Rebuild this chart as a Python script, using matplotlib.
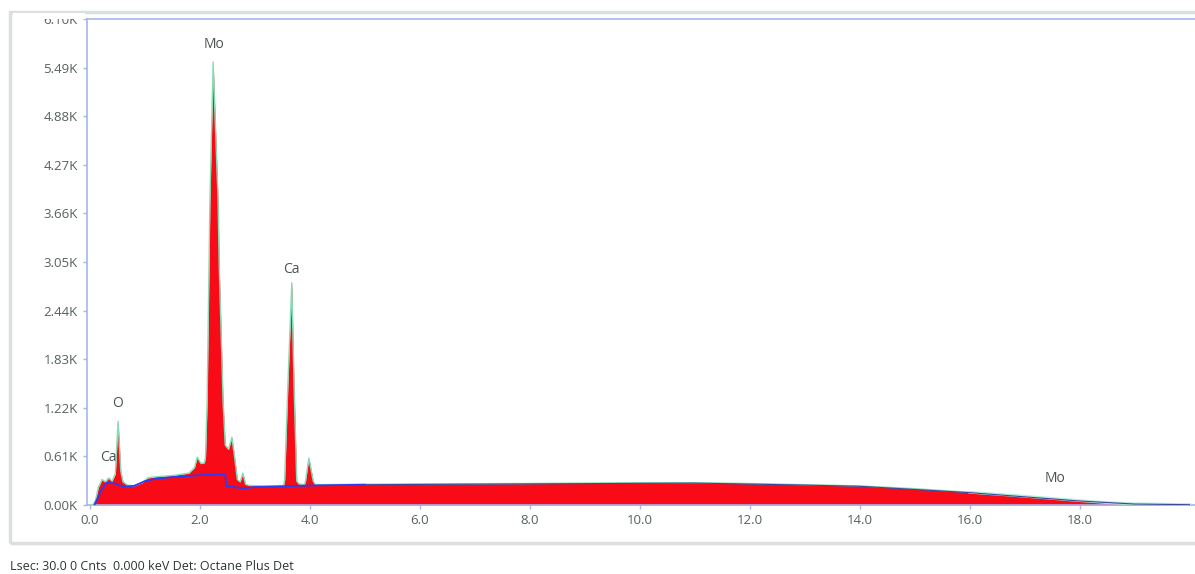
import matplotlib.pyplot as plt
from matplotlib.patches import Rectangle

# spectrum (keV, counts)
energy = [0.0, 0.05, 0.10, 0.15, 0.22, 0.28, 0.34, 0.40, 0.46, 0.51, 0.56, 0.60, 0.68,
          0.80, 0.95, 1.05, 1.20, 1.50, 1.80, 1.90, 1.95, 2.02, 2.08, 2.10, 2.13, 2.18,
          2.24, 2.33, 2.35, 2.42, 2.46, 2.52, 2.58, 2.63, 2.68, 2.73, 2.78, 2.83, 2.90,
          3.20, 3.52, 3.54, 3.60, 3.67, 3.71, 3.76, 3.80, 3.90, 3.92, 3.98, 4.06, 4.10,
          5.0, 6.0, 8.0, 10.0, 11.0, 12.0, 13.0, 14.0, 15.0, 16.0, 17.0, 18.0, 18.5,
          19.0, 20.0]
counts = [0, 0, 60, 220, 320, 290, 340, 300, 390, 1050, 420, 290, 250,
          240, 280, 340, 355, 370, 400, 470, 600, 520, 530, 600, 1300, 3800,
          5560, 3800, 3000, 1300, 750, 700, 850, 600, 320, 290, 400, 260, 245,
          240, 245, 310, 1530, 2790, 1530, 300, 265, 255, 300, 590, 300, 255,
          260, 265, 270, 280, 280, 270, 255, 240, 205, 160, 110, 55, 30,
          15, 5]

# fitted background (blue line)
bg_energy = [0.08, 0.20, 0.30, 0.45, 0.60, 0.80, 1.00, 1.20, 1.50, 2.00, 2.46, 2.48,
             2.80, 3.00, 4.00, 5.0, 8.0, 11.0, 13.0, 14.0, 16.0, 18.0, 19.0, 20.0]
bg_counts = [0, 180, 280, 270, 230, 240, 300, 330, 350, 375, 385, 235,
             210, 225, 245, 255, 265, 275, 250, 235, 155, 50, 12, 4]

# element labels
labels = ["Mo", "Ca", "O", "Ca", "Mo"]
label_x = [2.25, 3.66, 0.50, 0.33, 17.55]
label_y = [5780, 2960, 1270, 590, 330]

yticks = [0, 610, 1220, 1830, 2440, 3050, 3660, 4270, 4880, 5490, 6100]
xticks = [0, 2, 4, 6, 8, 10, 12, 14, 16, 18]

plt.rcParams['font.family'] = ['Open Sans', 'DejaVu Sans']

fig = plt.figure(figsize=(11.95, 5.74), dpi=100)
W, H = 1195, 574
ax = fig.add_axes([87 / W, 1 - 505 / H, (1195 - 87) / W, 486 / H])

ax.fill_between(energy, counts, 0, color='#f80a16', linewidth=0, zorder=2)
ax.plot(energy, counts, color='#86dcb4', lw=1.0, zorder=3)

# background line: clear blue at low energy, thin dark edge where it meets the continuum
n_low = bg_energy.index(5.0) + 1
ax.plot(bg_energy[:n_low], bg_counts[:n_low], color='#2b3cf5', lw=1.3, zorder=4)
ax.plot(bg_energy[n_low - 1:], bg_counts[n_low - 1:], color='#3a4a9a', lw=0.8, zorder=4)

# pale tail at high energy
n_tail = energy.index(16.0)
ax.plot(energy[n_tail:], counts[n_tail:], color='#b4ecdc', lw=2.0, zorder=3)

for t, x, y in zip(labels, label_x, label_y):
    ax.text(x, y, t, ha='center', va='center', fontsize=10, color='#4a5252', zorder=5)

ax.set_xlim(-0.055, 20.1)
ax.set_ylim(0, 6100)
ax.set_xticks(xticks)
ax.set_xticklabels([f"{v:.1f}" for v in xticks])
ax.set_yticks(yticks)
ax.set_yticklabels([f"{v / 1000:.2f}K" for v in yticks])
ax.tick_params(colors='#a6b6f0', labelcolor='#566060', labelsize=9.5, length=3, width=1)

for side in ['left', 'top', 'bottom']:
    ax.spines[side].set_color('#a6b6f0')
    ax.spines[side].set_linewidth(1.2)
ax.spines['right'].set_visible(False)

# outer panel frame
fig.patches.append(Rectangle((10 / W, 1 - 543 / H), (1200 - 10) / W, 531 / H,
                             transform=fig.transFigure, fill=False,
                             edgecolor='#dcdfe0', lw=2.5, zorder=-1))
# the top tick label is cut off at the plot's upper edge
fig.patches.append(Rectangle((13 / W, 1 - 18.5 / H), 72 / W, 5.5 / H,
                             transform=fig.transFigure, facecolor='white',
                             edgecolor='none', zorder=10))

fig.text(10 / W, 1 - 566 / H, "Lsec: 30.0 0 Cnts  0.000 keV Det: Octane Plus Det",
         fontsize=9, color='#2c3434', va='center', ha='left')

fig.savefig('out.png', dpi=100)
